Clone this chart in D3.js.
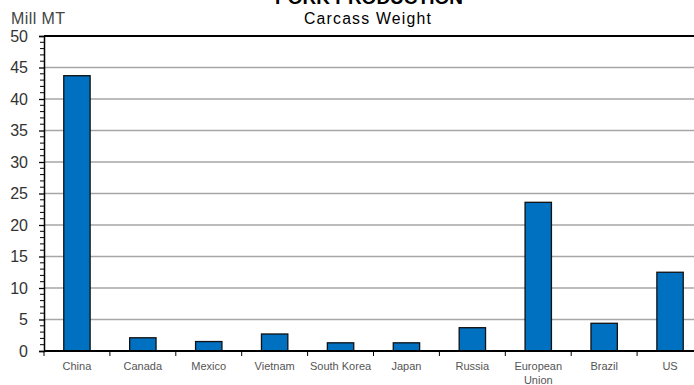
<!DOCTYPE html>
<html>
<head>
<meta charset="utf-8">
<script src="https://cdn.jsdelivr.net/npm/d3@7"></script>
<style>
  html, body { margin: 0; padding: 0; background: #fff; }
  svg { display: block; }
</style>
</head>
<body>
<svg id="chart" width="694" height="385"></svg>
<script>
// Pork production by country, million metric tons (carcass weight)
const categories = ["China", "Canada", "Mexico", "Vietnam", "South Korea", "Japan", "Russia", "European Union", "Brazil", "US"];
const production = [43.7, 2.1, 1.5, 2.7, 1.3, 1.3, 3.7, 23.6, 4.4, 12.5];
const yMajorTicks = [0, 5, 10, 15, 20, 25, 30, 35, 40, 45, 50];

const svg = d3.select("#chart");
const plotLeft = 44, plotTop = 36, plotBottom = 351, plotRight = 703;
const font = "Liberation Sans, Arial, sans-serif";

const x = d3.scaleBand().domain(categories).range([plotLeft, plotRight]).paddingInner(0.6).paddingOuter(0.3);
const xEdges = d3.scaleLinear().domain([0, categories.length]).range([plotLeft, plotRight]);
const y = d3.scaleLinear().domain([0, 50]).range([plotBottom, plotTop]);

// Titles
svg.append("text").attr("x", 369).attr("y", 4).attr("text-anchor", "middle")
  .attr("font-family", font).attr("font-weight", "bold")
  .attr("font-size", 19).attr("fill", "#000").text("PORK PRODUCTION");
svg.append("text").attr("x", 368).attr("y", 24).attr("text-anchor", "middle")
  .attr("font-family", font).attr("letter-spacing", 1.2)
  .attr("font-size", 15.8).attr("fill", "#000").text("Carcass Weight");
svg.append("text").attr("x", 11).attr("y", 24)
  .attr("font-family", font).attr("letter-spacing", 0.4)
  .attr("font-size", 16).attr("fill", "#444").text("Mill MT");

// Horizontal gridlines
svg.append("g").selectAll("line").data(yMajorTicks.filter(d => d > 0 && d < 50)).join("line")
  .attr("x1", plotLeft).attr("x2", 694)
  .attr("y1", d => y(d)).attr("y2", d => y(d))
  .attr("stroke", "#a6a6a6").attr("stroke-width", 1.5);

// Top frame line
svg.append("line").attr("x1", plotLeft).attr("x2", 694).attr("y1", y(50)).attr("y2", y(50))
  .attr("stroke", "#000").attr("stroke-width", 2);

// Bars
svg.append("g").selectAll("rect").data(categories).join("rect")
  .attr("x", d => x(d))
  .attr("y", (d, i) => y(production[i]))
  .attr("width", x.bandwidth())
  .attr("height", (d, i) => y(0) - y(production[i]))
  .attr("fill", "#0070c0")
  .attr("stroke", "#111").attr("stroke-width", 1.3);

// Y axis with minor ticks
const yAxis = d3.axisLeft(y).tickValues(yMajorTicks).tickSize(5).tickPadding(11).tickFormat(d3.format("d"));
const gy = svg.append("g").attr("transform", `translate(${plotLeft},0)`).call(yAxis);
gy.select(".domain").attr("stroke", "#000").attr("stroke-width", 1.5);
gy.selectAll(".tick line").attr("stroke", "#000").attr("stroke-width", 1.3);
gy.selectAll(".tick text").attr("font-family", font)
  .attr("font-size", 16).attr("fill", "#333");
svg.append("g").selectAll("line").data(d3.range(0, 51).filter(d => d % 5 !== 0)).join("line")
  .attr("x1", plotLeft - 4).attr("x2", plotLeft)
  .attr("y1", d => y(d)).attr("y2", d => y(d))
  .attr("stroke", "#000").attr("stroke-width", 1);

// X axis baseline and category separators
svg.append("line").attr("x1", plotLeft).attr("x2", 694).attr("y1", plotBottom).attr("y2", plotBottom)
  .attr("stroke", "#000").attr("stroke-width", 1.8);
svg.append("g").selectAll("line").data(d3.range(0, categories.length + 1)).join("line")
  .attr("x1", d => xEdges(d)).attr("x2", d => xEdges(d))
  .attr("y1", plotBottom).attr("y2", plotBottom + 5)
  .attr("stroke", "#000").attr("stroke-width", 1);

// Category labels (two-word names wrap where needed)
const labels = svg.append("g").selectAll("text").data(categories).join("text")
  .attr("x", d => x(d) + x.bandwidth() / 2)
  .attr("y", 370)
  .attr("text-anchor", "middle")
  .attr("font-family", font)
  .attr("font-size", 11).attr("fill", "#555");
labels.each(function(d) {
  const t = d3.select(this);
  const lines = d === "European Union" ? ["European", "Union"] : [d];
  lines.forEach((s, i) => t.append("tspan").attr("x", x(d) + x.bandwidth() / 2).attr("dy", i ? 14 : 0).text(s));
});
</script>
</body>
</html>
